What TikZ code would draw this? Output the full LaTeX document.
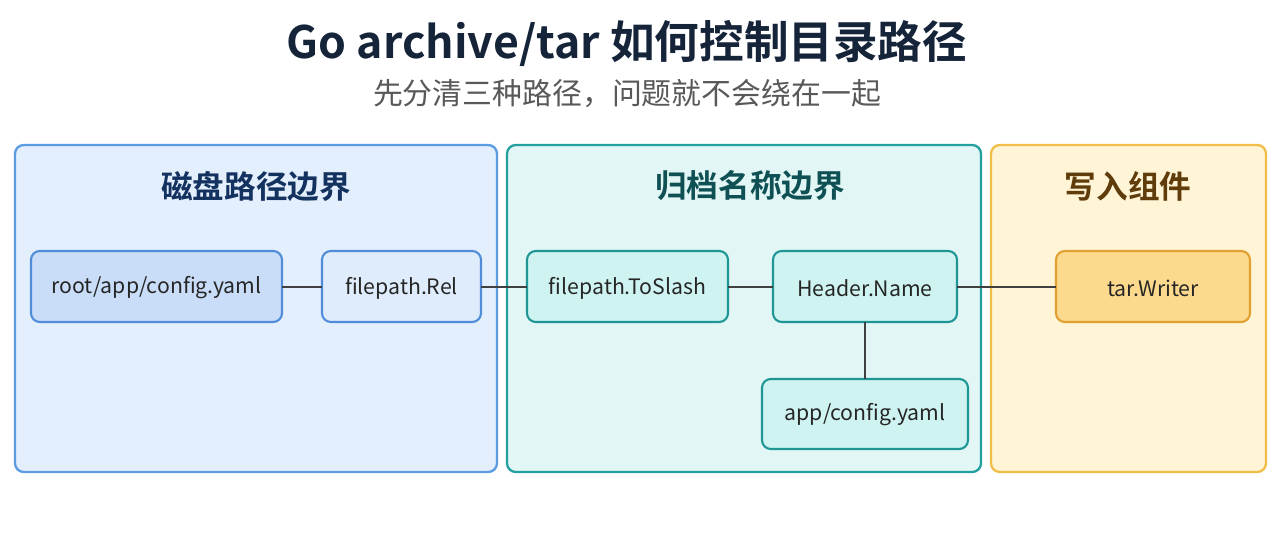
\documentclass[tikz,border=0pt]{standalone}
\usepackage{fontspec}
\setmainfont{Noto Sans CJK SC}[BoldFont={Noto Sans CJK SC Bold}]
\definecolor{ttl}{RGB}{22,36,58}
\definecolor{bB}{RGB}{91,155,224}\definecolor{bF}{RGB}{227,239,253}
\definecolor{tB}{RGB}{34,160,160}\definecolor{tF}{RGB}{226,247,245}
\definecolor{oB}{RGB}{240,190,70}\definecolor{oF}{RGB}{255,244,214}
\definecolor{h1}{RGB}{20,50,95}\definecolor{h2}{RGB}{15,80,85}\definecolor{h3}{RGB}{95,60,10}
\definecolor{nbB}{RGB}{80,140,215}\definecolor{nbF1}{RGB}{201,221,248}\definecolor{nbF2}{RGB}{223,236,252}
\definecolor{ntB}{RGB}{30,150,150}\definecolor{ntF}{RGB}{206,243,240}
\definecolor{noB}{RGB}{225,160,50}\definecolor{noF}{RGB}{252,217,140}
\begin{document}
\begin{tikzpicture}[x=0.02cm,y=-0.02cm,
 panel/.style={rounded corners=5pt,line width=1.3pt},
 box/.style={rounded corners=5pt,line width=1.2pt,draw=#1},
 lbl/.style={font=\fontsize{12.1}{14}\selectfont,text=black!85},
 link/.style={line width=1.3pt,draw=black!75}]
\useasboundingbox (0,0) rectangle (1280,533);
\fill[white] (0,0) rectangle (1280,533);
\node[font=\bfseries\fontsize{25.4}{28}\selectfont,text=ttl] (t) at (627,43) {Go archive/tar 如何控制目录路径};
\node[font=\fontsize{17}{20}\selectfont,text=black!65] (st) at (627,94) {先分清三种路径，问题就不会绕在一起};
\draw[panel,draw=bB,fill=bF] (15,145) rectangle (497,472);
\draw[panel,draw=tB,fill=tF] (507,145) rectangle (981,472);
\draw[panel,draw=oB,fill=oF] (991,145) rectangle (1266,472);
\node[font=\bfseries\fontsize{18}{20}\selectfont,text=h1] (p1) at (256,186) {磁盘路径边界};
\node[font=\bfseries\fontsize{18}{20}\selectfont,text=h2] (p2) at (750,186) {归档名称边界};
\node[font=\bfseries\fontsize{18}{20}\selectfont,text=h3] (p3) at (1128,186) {写入组件};
\draw[box=nbB,fill=nbF1] (31,251) rectangle (282,322);
\node[lbl] (a) at (156.5,288) {root/app/config.yaml};
\draw[box=nbB,fill=nbF2] (322,251) rectangle (481,322);
\node[lbl] (b) at (401.5,288) {filepath.Rel};
\draw[box=ntB,fill=ntF] (527,251) rectangle (728,322);
\node[lbl] (c) at (627.5,288) {filepath.ToSlash};
\draw[box=ntB,fill=ntF] (773,251) rectangle (957,322);
\node[lbl] (d) at (865,288) {Header.Name};
\draw[box=ntB,fill=ntF] (762,379) rectangle (968,449);
\node[lbl] (e) at (865,415) {app/config.yaml};
\draw[box=noB,fill=noF] (1056,251) rectangle (1250,322);
\node[lbl] (f) at (1153,288) {tar.Writer};
\coordinate (ar) at (282,287); \coordinate (bl) at (322,287);
\coordinate (br) at (481,287); \coordinate (cl) at (527,287);
\coordinate (cr) at (728,287); \coordinate (dl) at (773,287);
\coordinate (dr) at (957,287); \coordinate (fl) at (1056,287);
\coordinate (db) at (865,322); \coordinate (et) at (865,379);
\draw[link] (ar) -- (bl);
\draw[link] (br) -- (cl);
\draw[link] (cr) -- (dl);
\draw[link] (dr) -- (fl);
\draw[link] (db) -- (et);
\end{tikzpicture}
\end{document}
